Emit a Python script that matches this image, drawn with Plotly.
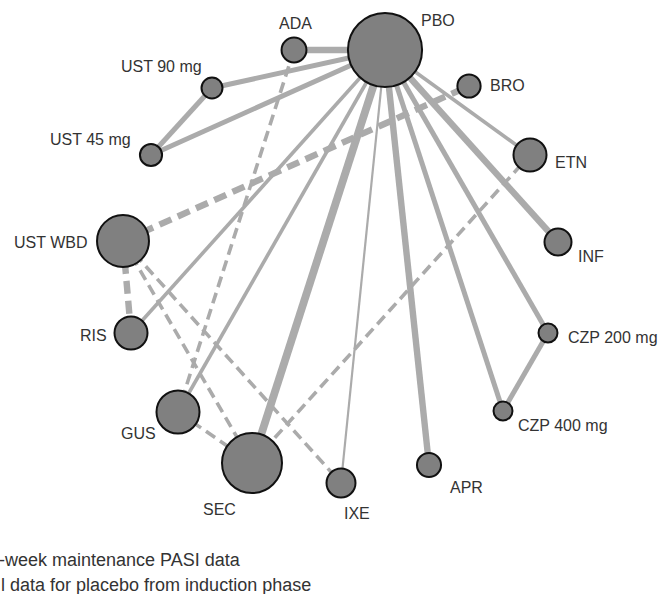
import plotly.graph_objects as go

# Treatments in the network and their relative weight (drives node area)
treatments = ["PBO", "ADA", "UST 90 mg", "UST 45 mg", "BRO", "ETN", "INF",
              "CZP 200 mg", "CZP 400 mg", "APR", "IXE", "SEC", "GUS", "RIS", "UST WBD"]
node_weight = [55.0, 6.2, 4.4, 4.9, 5.4, 10.9, 7.3, 3.6, 3.6, 5.8, 8.4, 36.0, 18.5, 10.9, 27.0]

# Direct comparisons: (treatment A, treatment B, number of trials, induction-phase placebo data?)
comp_a = ["PBO", "PBO", "PBO", "UST 90 mg", "PBO", "PBO", "PBO", "PBO", "CZP 200 mg",
          "PBO", "PBO", "PBO", "PBO", "PBO",
          "UST WBD", "UST WBD", "UST WBD", "UST WBD", "ADA", "GUS", "SEC"]
comp_b = ["ADA", "UST 90 mg", "UST 45 mg", "UST 45 mg", "ETN", "INF", "CZP 200 mg", "CZP 400 mg",
          "CZP 400 mg", "APR", "IXE", "SEC", "GUS", "RIS",
          "BRO", "RIS", "SEC", "IXE", "GUS", "SEC", "ETN"]
comp_trials = [4, 3, 3, 3, 2, 4, 3, 3, 3, 4, 1, 5, 2, 2, 4, 4, 2, 2, 2, 2, 2]
comp_dashed = [False] * 14 + [True] * 7

legend_lines = ["-week maintenance PASI data",
                "l data for placebo from induction phase"]

# Circular layout of the network (page coordinates)
node_xy = {
    "PBO": (385, 50), "ADA": (294, 50), "UST 90 mg": (212, 88), "UST 45 mg": (151, 155),
    "BRO": (469, 86), "ETN": (530, 155), "INF": (558, 242), "CZP 200 mg": (548, 333),
    "CZP 400 mg": (503, 411), "APR": (429, 465), "IXE": (341, 483), "SEC": (252, 463),
    "GUS": (178, 412), "RIS": (131, 333), "UST WBD": (123, 241),
}
label_xy = {
    "PBO": (438, 20), "ADA": (295, 23), "UST 90 mg": (161, 66), "UST 45 mg": (90, 139),
    "BRO": (507, 85), "ETN": (571, 162), "INF": (591, 256), "CZP 200 mg": (613, 337),
    "CZP 400 mg": (563, 425), "APR": (466, 487), "IXE": (357, 513), "SEC": (219, 509),
    "GUS": (138, 433), "RIS": (93, 335), "UST WBD": (50, 242),
}

EDGE_COLOR = "#ababab"
NODE_FILL = "#808080"
TEXT_COLOR = "#333333"
FONT = "Liberation Sans, Arial, sans-serif"

fig = go.Figure()

# Edges: width scales with number of trials
for a, b, n, dashed in zip(comp_a, comp_b, comp_trials, comp_dashed):
    (x0, y0), (x1, y1) = node_xy[a], node_xy[b]
    w = 0.8 + 1.4 * n
    fig.add_trace(go.Scatter(
        x=[x0, x1], y=[y0, y1], mode="lines",
        line=dict(color=EDGE_COLOR, width=w,
                  dash=("13px,7px" if w > 5 else "11px,6px") if dashed else "solid"),
        hoverinfo="skip", showlegend=False,
    ))

# Nodes: area proportional to weight
sizes = [10.0 * w ** 0.5 for w in node_weight]
fig.add_trace(go.Scatter(
    x=[node_xy[t][0] for t in treatments],
    y=[node_xy[t][1] for t in treatments],
    mode="markers",
    marker=dict(size=sizes, color=NODE_FILL, opacity=1,
                line=dict(color="#111111", width=2)),
    text=treatments, hoverinfo="text", showlegend=False,
))

for t in treatments:
    lx, ly = label_xy[t]
    fig.add_annotation(x=lx, y=ly, text=t, showarrow=False,
                       font=dict(family=FONT, size=16, color=TEXT_COLOR),
                       xanchor="center", yanchor="middle")

for i, line in enumerate(legend_lines):
    fig.add_annotation(x=0, y=[560, 585][i], xshift=[-3, -1][i], text=line, showarrow=False,
                       font=dict(family=FONT, size=18, color=TEXT_COLOR),
                       xanchor="left", yanchor="middle")

fig.update_layout(
    width=671, height=594,
    margin=dict(l=0, r=0, t=0, b=0),
    paper_bgcolor="white", plot_bgcolor="white",
    xaxis=dict(range=[0, 671], visible=False, fixedrange=True),
    yaxis=dict(range=[594, 0], visible=False, fixedrange=True),
)

fig.write_html("out.html")
